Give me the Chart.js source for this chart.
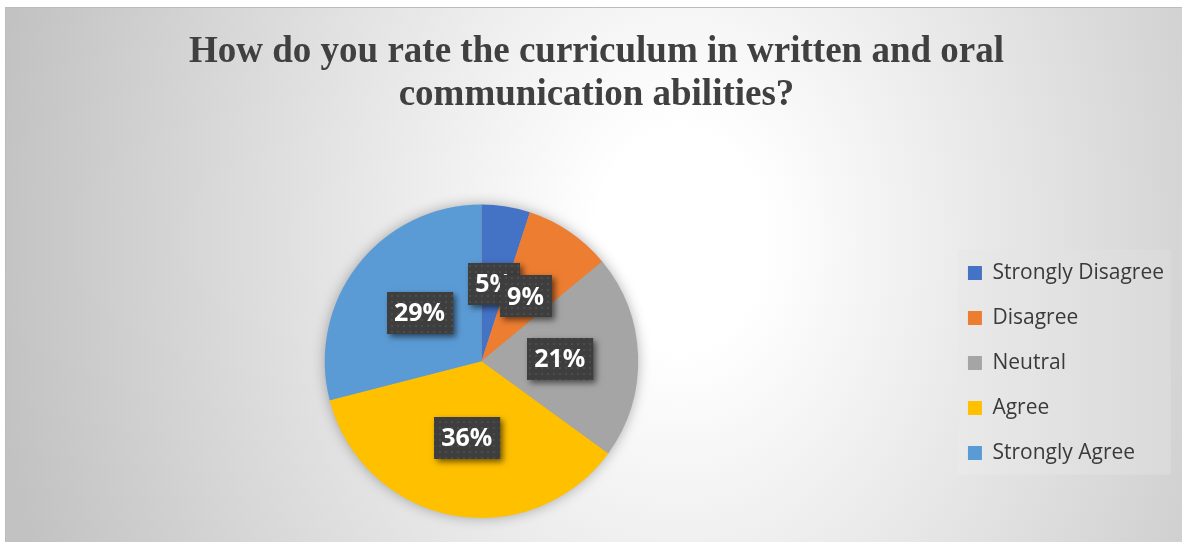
<!DOCTYPE html>
<html>
<head>
<meta charset="utf-8">
<script src="https://cdn.jsdelivr.net/npm/chart.js@4.4.1/dist/chart.umd.min.js"></script>
<style>
  html, body { margin: 0; padding: 0; background: #ffffff; }
  #wrap { position: relative; width: 1182px; height: 543px; }
</style>
</head>
<body>
<div id="wrap"><canvas id="c" width="1182" height="543"></canvas></div>
<script>
const titleLines = ["How do you rate the curriculum in written and oral", "communication abilities?"];
const categories = ["Strongly Disagree", "Disagree", "Neutral", "Agree", "Strongly Agree"];
const percentValues = [5, 9, 21, 36, 29];
const sliceColors = ["#4472C4", "#ED7D31", "#A5A5A5", "#FFC000", "#5B9BD5"];

function makePattern(ctx) {
  const pc = document.createElement('canvas');
  pc.width = 6; pc.height = 6;
  const p = pc.getContext('2d');
  p.fillStyle = '#3e3e3e';
  p.fillRect(0, 0, 6, 6);
  p.fillStyle = '#4c4c4c';
  p.fillRect(1, 1, 2, 2);
  return ctx.createPattern(pc, 'repeat');
}

const backgroundPlugin = {
  id: 'bgFrame',
  beforeDraw(chart) {
    const ctx = chart.ctx;
    const W = chart.width, H = chart.height;
    ctx.save();
    ctx.fillStyle = '#ffffff';
    ctx.fillRect(0, 0, W, H);
    const x0 = 5, y0 = 7, x1 = W, y1 = 542;
    ctx.save();
    ctx.beginPath();
    ctx.rect(x0, y0, x1 - x0, y1 - y0);
    ctx.clip();
    const cx = 680, cy = 240;
    ctx.translate(cx, cy);
    ctx.scale(1, 1.3);
    const g = ctx.createRadialGradient(0, 0, 0, 0, 0, 690);
    g.addColorStop(0, '#ffffff');
    g.addColorStop(0.12, '#ffffff');
    g.addColorStop(1, '#c2c2c2');
    ctx.fillStyle = g;
    ctx.fillRect(-1000, -1000, 3000, 3000);
    ctx.restore();
    ctx.strokeStyle = '#bcbcbc';
    ctx.lineWidth = 1;
    ctx.beginPath();
    ctx.moveTo(x0 + 0.5, y1);
    ctx.lineTo(x0 + 0.5, y0 + 0.5);
    ctx.lineTo(x1, y0 + 0.5);
    ctx.stroke();

    const lg = chart.legend;
    if (lg && lg.legendHitBoxes && lg.legendHitBoxes.length) {
      const hb = lg.legendHitBoxes;
      const lx = hb[0].left - 10;
      const ty = hb[0].top - 13;
      const by = hb[hb.length - 1].top + hb[hb.length - 1].height + 11;
      const lw = 213;
      const lgG = ctx.createLinearGradient(lx, 0, lx + lw, 0);
      lgG.addColorStop(0, '#e9e9e9');
      lgG.addColorStop(1, '#dadada');
      ctx.fillStyle = lgG;
      ctx.fillRect(lx, ty, lw, by - ty);
    }
    ctx.restore();
  },
  beforeDatasetsDraw(chart) {
    const meta = chart.getDatasetMeta(0);
    if (!meta.data.length) return;
    const a = meta.data[0];
    const ctx = chart.ctx;
    ctx.save();
    ctx.shadowColor = 'rgba(0,0,0,0.35)';
    ctx.shadowBlur = 14;
    ctx.fillStyle = '#a0a0a0';
    ctx.beginPath();
    ctx.arc(a.x, a.y, a.outerRadius - 1, 0, Math.PI * 2);
    ctx.fill();
    ctx.restore();
  }
};

const labelPlugin = {
  id: 'boxLabels',
  afterDatasetsDraw(chart) {
    const ctx = chart.ctx;
    const meta = chart.getDatasetMeta(0);
    const pattern = makePattern(ctx);
    ctx.save();
    ctx.font = 'bold 25px "Open Sans", sans-serif';
    ctx.textAlign = 'center';
    ctx.textBaseline = 'middle';
    meta.data.forEach((arc, i) => {
      const pos = arc.tooltipPosition();
      const txt = percentValues[i] + '%';
      const tw = ctx.measureText(txt).width;
      const bw = tw + 15, bh = 42;
      const bx = Math.round(pos.x - bw / 2), by = Math.round(pos.y - bh / 2);
      ctx.save();
      ctx.shadowColor = 'rgba(0,0,0,0.55)';
      ctx.shadowBlur = 6;
      ctx.shadowOffsetX = 3;
      ctx.shadowOffsetY = 3;
      ctx.fillStyle = '#3e3e3e';
      ctx.fillRect(bx, by, bw, bh);
      ctx.restore();
      ctx.fillStyle = pattern;
      ctx.fillRect(bx, by, bw, bh);
      ctx.fillStyle = '#ffffff';
      ctx.fillText(txt, pos.x, pos.y + 1);
    });
    ctx.restore();
  }
};

const chart = new Chart(document.getElementById('c'), {
  type: 'pie',
  data: {
    labels: categories,
    datasets: [{
      data: percentValues,
      backgroundColor: sliceColors,
      borderWidth: 0
    }]
  },
  options: {
    responsive: false,
    animation: false,
    devicePixelRatio: 1,
    layout: { padding: { left: 19, right: 8, top: 0, bottom: 25 } },
    plugins: {
      title: {
        display: true,
        text: titleLines,
        color: '#404040',
        font: { family: '"Liberation Serif", "Times New Roman", serif', size: 37, weight: 'bold', lineHeight: 1.17 },
        padding: { top: 31, bottom: 87 }
      },
      legend: {
        display: true,
        position: 'right',
        align: 'start',
        title: { display: true, text: ' ', font: { size: 10, lineHeight: 1.2 }, padding: { top: 0, bottom: 0 } },
        labels: {
          color: '#3a3a3a',
          font: { family: '"Open Sans", sans-serif', size: 21, lineHeight: 1.2 },
          boxWidth: 14,
          boxHeight: 14,
          padding: 24
        }
      },
      tooltip: { enabled: false }
    }
  },
  plugins: [backgroundPlugin, labelPlugin]
});
// place the legend rows so the first row's middle sits at y = 273
const firstRowTop = 273 - 10.5;
const need = firstRowTop - 24 - chart.legend.top - 12;
chart.options.plugins.legend.title.padding = { top: Math.max(0, need), bottom: 0 };
chart.update();
</script>
</body>
</html>
